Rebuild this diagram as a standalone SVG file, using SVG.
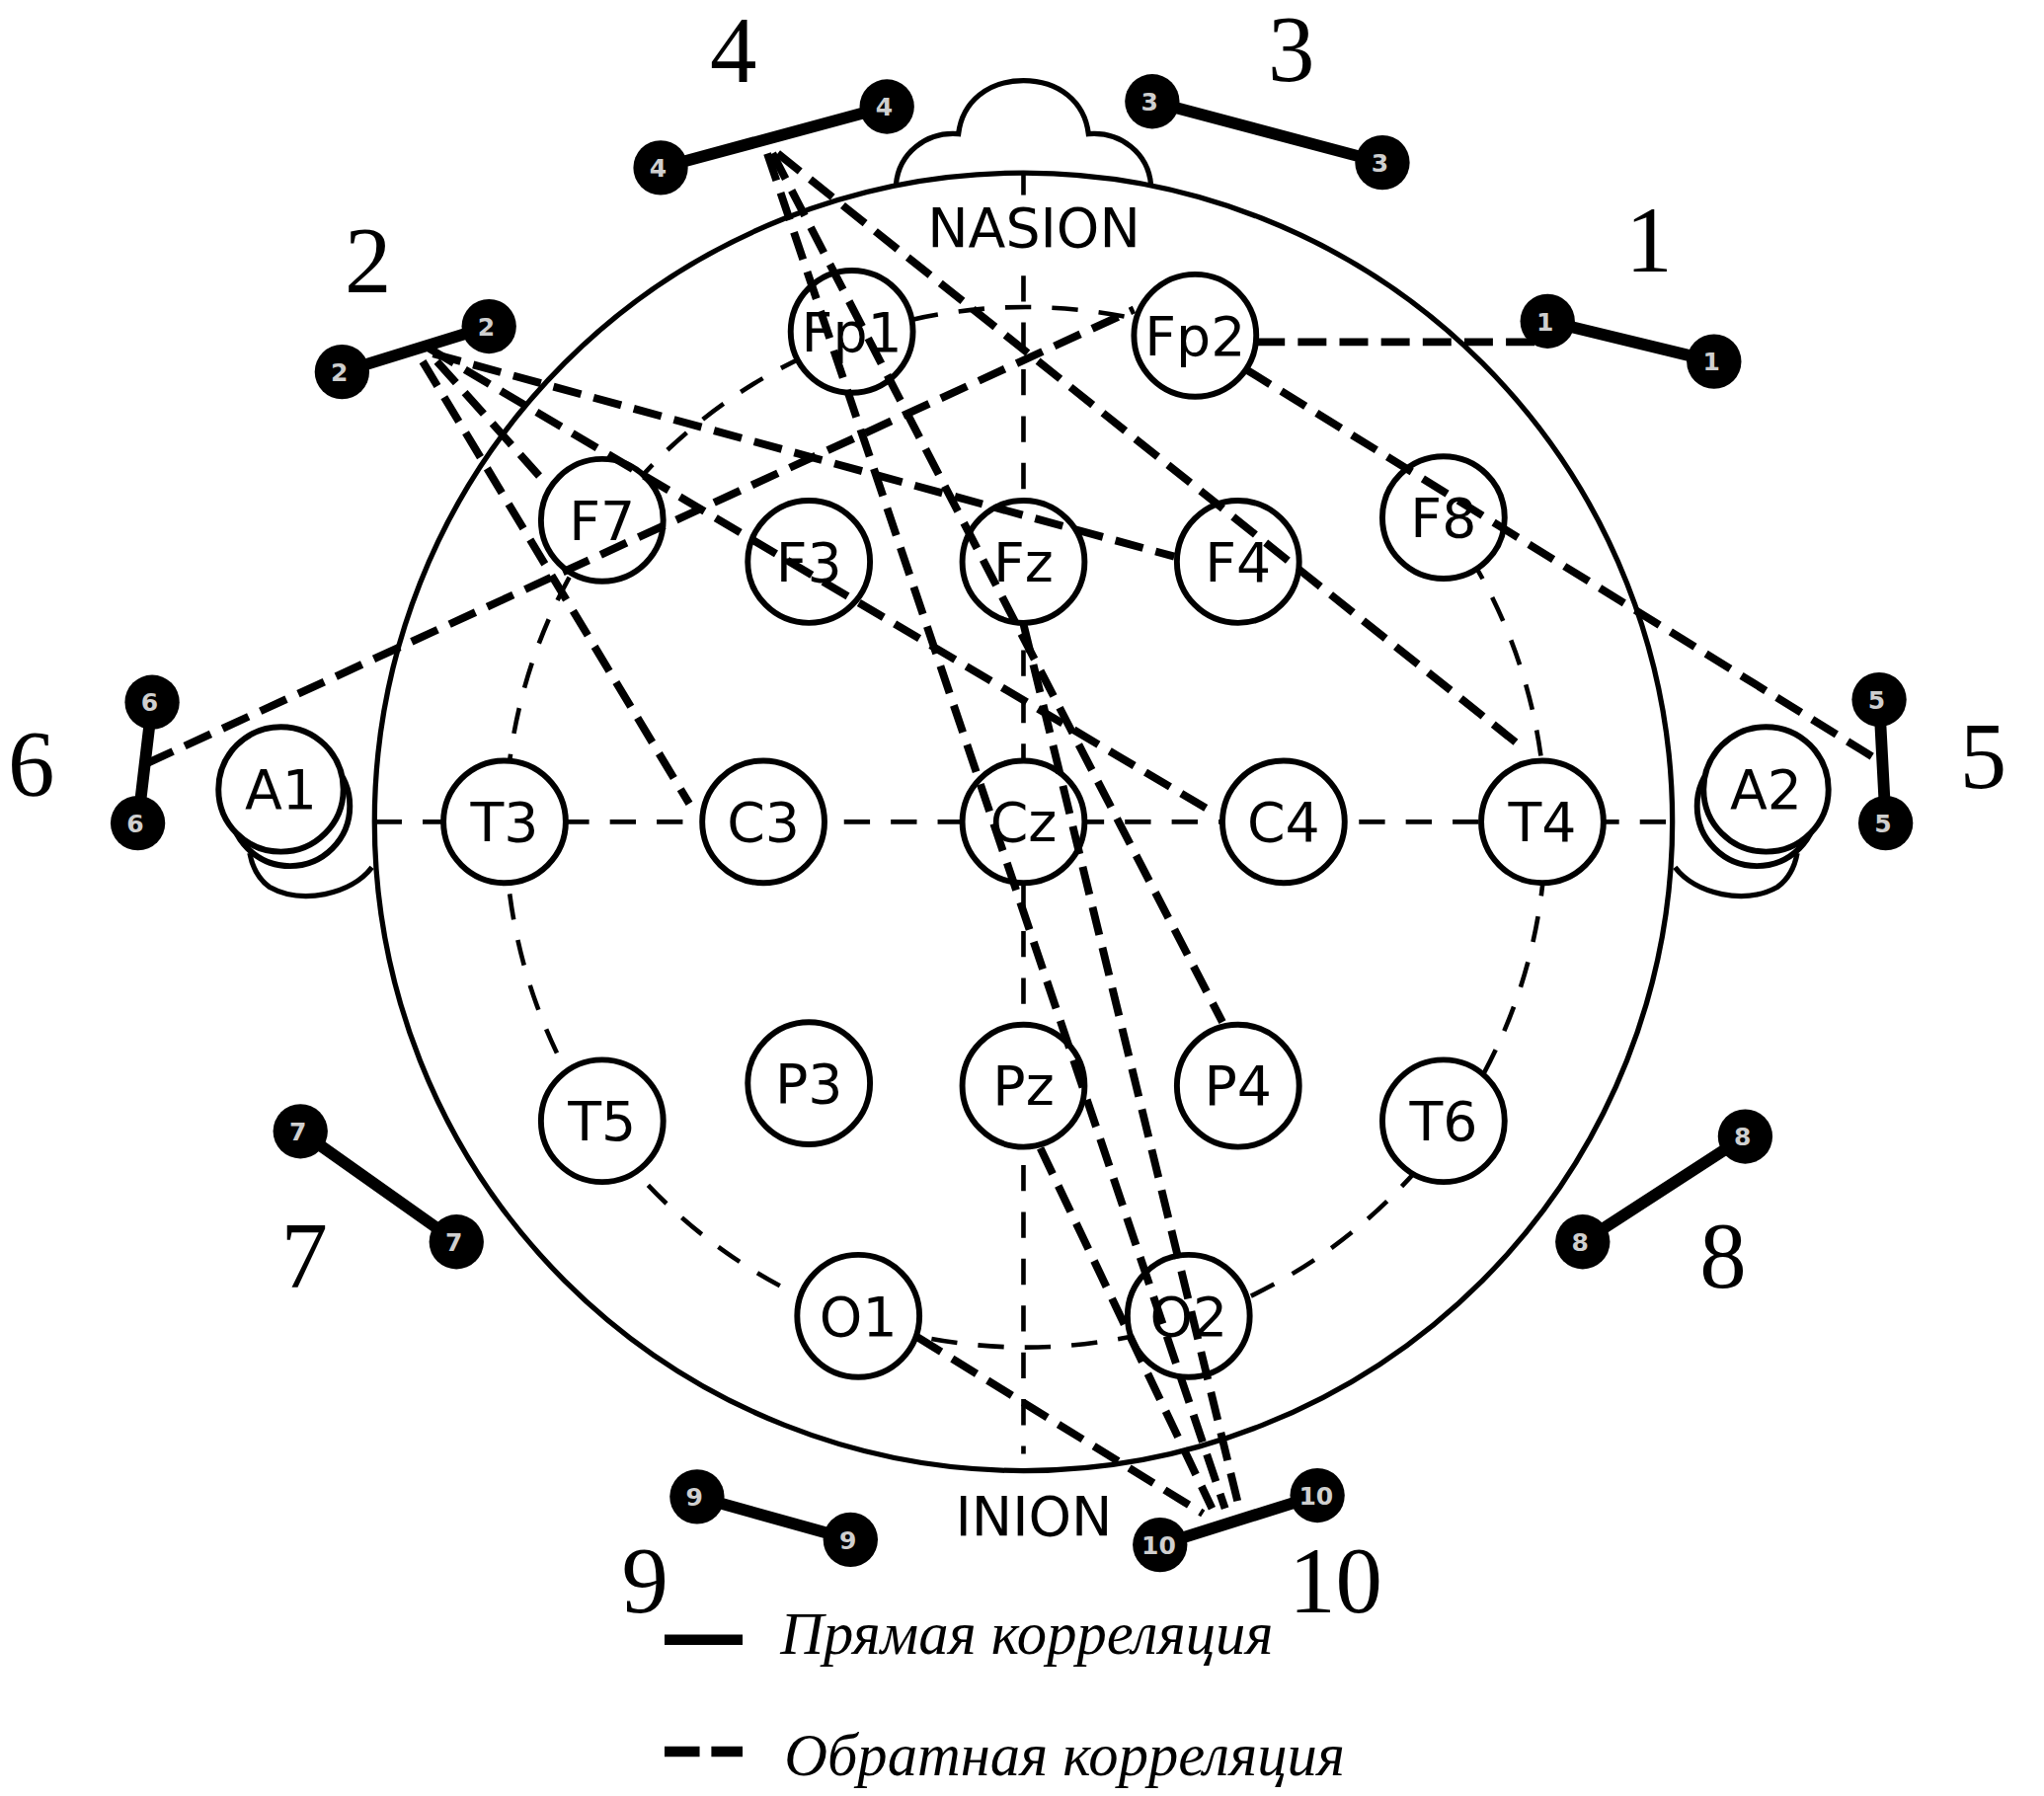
<svg xmlns="http://www.w3.org/2000/svg" width="2070" height="1819" viewBox="0 0 2070 1819">
<style>
.head{fill:none;stroke:#000;stroke-width:4}
.thin{fill:none;stroke:#000;stroke-width:3.5;stroke-dasharray:20 16}
.node circle{fill:#fff;stroke:#000;stroke-width:4.5}
.node text{font-family:"DejaVu Sans","Liberation Sans",sans-serif;font-size:42px;text-anchor:middle;fill:#000}
.conn line{stroke:#000;stroke-width:6;stroke-dasharray:22 10;fill:none}
.bar{stroke:#000;stroke-width:9;stroke-linecap:round}
.dot{fill:#000}
.dnum{font-family:"DejaVu Sans","Liberation Sans",sans-serif;font-size:19px;font-weight:bold;fill:#cfcfcf;text-anchor:middle}
.big{font-family:"Liberation Serif","Times New Roman",serif;font-size:72px;text-anchor:middle;fill:#000}
.lm{font-family:"DejaVu Sans","Liberation Sans",sans-serif;font-size:42px;text-anchor:middle;fill:#000}
.leg{font-family:"Liberation Serif","Times New Roman",serif;font-style:italic;font-size:46px;fill:#000}
</style>
<rect width="2070" height="1819" fill="#fff"/>
<g transform="scale(1.317)">
<g id="head">
<path class="head" d="M689,142 C691,118 712,101 737,103 C740,78 760,62 787,62 C814,62 834,78 837,103 C862,101 883,118 885,142"/>
<path class="head" d="M1288,667 C1304,688 1342,696 1367,682 C1375,676 1380,667 1382,656"/>
<path class="head" d="M286,667 C270,688 232,696 207,682 C199,676 194,667 192,656"/>
<circle class="head" cx="787" cy="632" r="499"/>
</g>
<g id="grid">
<path class="thin" d="M1110,398 A400,400 0 1 1 919,258"/>
<line x1="787" y1="133" x2="787" y2="150" stroke="#000" stroke-width="3.5"/>
<line class="thin" x1="787" y1="212" x2="787" y2="1118"/>
<line class="thin" x1="289" y1="632" x2="1285" y2="632"/>
</g>
<g id="labels-landmarks">
<text class="lm" x="795" y="190">NASION</text>
<text class="lm" x="795" y="1181">INION</text>
</g>
<g id="nodes">
<g class="node" id="node-Fp1"><circle cx="655" cy="255" r="47"/><text x="655" y="270">Fp1</text></g>
<g class="node" id="node-Fp2"><circle cx="919" cy="258" r="47"/><text x="919" y="273">Fp2</text></g>
<g class="node" id="node-F7"><circle cx="463" cy="400" r="47"/><text x="463" y="415">F7</text></g>
<g class="node" id="node-F3"><circle cx="622" cy="432" r="47"/><text x="622" y="447">F3</text></g>
<g class="node" id="node-Fz"><circle cx="787" cy="432" r="47"/><text x="787" y="447">Fz</text></g>
<g class="node" id="node-F4"><circle cx="952" cy="432" r="47"/><text x="952" y="447">F4</text></g>
<g class="node" id="node-F8"><circle cx="1110" cy="398" r="47"/><text x="1110" y="413">F8</text></g>
<g class="node" id="node-A1"><circle cx="223" cy="620" r="46"/><circle cx="216" cy="607" r="48"/><text x="216" y="622">A1</text></g>
<g class="node" id="node-T3"><circle cx="388" cy="632" r="47"/><text x="388" y="647">T3</text></g>
<g class="node" id="node-C3"><circle cx="587" cy="632" r="47"/><text x="587" y="647">C3</text></g>
<g class="node" id="node-Cz"><circle cx="787" cy="632" r="47"/><text x="787" y="647">Cz</text></g>
<g class="node" id="node-C4"><circle cx="987" cy="632" r="47"/><text x="987" y="647">C4</text></g>
<g class="node" id="node-T4"><circle cx="1186" cy="632" r="47"/><text x="1186" y="647">T4</text></g>
<g class="node" id="node-A2"><circle cx="1351" cy="620" r="46"/><circle cx="1358" cy="607" r="48"/><text x="1358" y="622">A2</text></g>
<g class="node" id="node-T5"><circle cx="463" cy="862" r="47"/><text x="463" y="877">T5</text></g>
<g class="node" id="node-P3"><circle cx="622" cy="833" r="47"/><text x="622" y="848">P3</text></g>
<g class="node" id="node-Pz"><circle cx="787" cy="835" r="47"/><text x="787" y="850">Pz</text></g>
<g class="node" id="node-P4"><circle cx="952" cy="835" r="47"/><text x="952" y="850">P4</text></g>
<g class="node" id="node-T6"><circle cx="1110" cy="862" r="47"/><text x="1110" y="877">T6</text></g>
<g class="node" id="node-O1"><circle cx="660" cy="1012" r="47"/><text x="660" y="1027">O1</text></g>
<g class="node" id="node-O2"><circle cx="914" cy="1012" r="47"/><text x="914" y="1027">O2</text></g>
</g>
<g id="connectors" class="conn">
<line x1="966" y1="263" x2="1182" y2="263"/>
<line x1="958" y1="284" x2="1440" y2="582"/>
<line x1="113" y1="587" x2="872" y2="238"/>
<line x1="325" y1="278" x2="530" y2="618"/>
<line x1="336" y1="278" x2="420" y2="372"/>
<line x1="330" y1="268" x2="935" y2="626"/>
<line x1="333" y1="272" x2="903" y2="428"/>
<line x1="598" y1="118" x2="1172" y2="576"/>
<line x1="594" y1="118" x2="940" y2="786"/>
<line x1="590" y1="118" x2="942" y2="1160"/>
<line x1="787" y1="480" x2="952" y2="1156"/>
<line x1="800" y1="883" x2="932" y2="1160"/>
<line x1="705" y1="1028" x2="925" y2="1164"/>
</g>
<g id="pairs">
<g id="pair-1"><line class="bar" x1="1190" y1="247" x2="1318" y2="278"/><circle class="dot" cx="1190" cy="247" r="21"/><circle class="dot" cx="1318" cy="278" r="21"/><text class="dnum" x="1188" y="254">1</text><text class="dnum" x="1316" y="285">1</text></g>
<g id="pair-2"><line class="bar" x1="263" y1="286" x2="376" y2="251"/><circle class="dot" cx="263" cy="286" r="21"/><circle class="dot" cx="376" cy="251" r="21"/><text class="dnum" x="261" y="293">2</text><text class="dnum" x="374" y="258">2</text></g>
<g id="pair-3"><line class="bar" x1="886" y1="78" x2="1063" y2="125"/><circle class="dot" cx="886" cy="78" r="21"/><circle class="dot" cx="1063" cy="125" r="21"/><text class="dnum" x="884" y="85">3</text><text class="dnum" x="1061" y="132">3</text></g>
<g id="pair-4"><line class="bar" x1="508" y1="129" x2="682" y2="82"/><circle class="dot" cx="508" cy="129" r="21"/><circle class="dot" cx="682" cy="82" r="21"/><text class="dnum" x="506" y="136">4</text><text class="dnum" x="680" y="89">4</text></g>
<g id="pair-5"><line class="bar" x1="1445" y1="538" x2="1450" y2="633"/><circle class="dot" cx="1445" cy="538" r="21"/><circle class="dot" cx="1450" cy="633" r="21"/><text class="dnum" x="1443" y="545">5</text><text class="dnum" x="1448" y="640">5</text></g>
<g id="pair-6"><line class="bar" x1="117" y1="540" x2="106" y2="633"/><circle class="dot" cx="117" cy="540" r="21"/><circle class="dot" cx="106" cy="633" r="21"/><text class="dnum" x="115" y="547">6</text><text class="dnum" x="104" y="640">6</text></g>
<g id="pair-7"><line class="bar" x1="231" y1="870" x2="351" y2="955"/><circle class="dot" cx="231" cy="870" r="21"/><circle class="dot" cx="351" cy="955" r="21"/><text class="dnum" x="229" y="877">7</text><text class="dnum" x="349" y="962">7</text></g>
<g id="pair-8"><line class="bar" x1="1342" y1="874" x2="1217" y2="955"/><circle class="dot" cx="1342" cy="874" r="21"/><circle class="dot" cx="1217" cy="955" r="21"/><text class="dnum" x="1340" y="881">8</text><text class="dnum" x="1215" y="962">8</text></g>
<g id="pair-9"><line class="bar" x1="536" y1="1151" x2="654" y2="1184"/><circle class="dot" cx="536" cy="1151" r="21"/><circle class="dot" cx="654" cy="1184" r="21"/><text class="dnum" x="534" y="1158">9</text><text class="dnum" x="652" y="1191">9</text></g>
<g id="pair-10"><line class="bar" x1="892" y1="1188" x2="1013" y2="1150"/><circle class="dot" cx="892" cy="1188" r="21"/><circle class="dot" cx="1013" cy="1150" r="21"/><text class="dnum" x="891" y="1195">10</text><text class="dnum" x="1012" y="1157">10</text></g>
</g>
<g id="pair-labels">
<text class="big" x="1268" y="209">1</text>
<text class="big" x="283" y="225">2</text>
<text class="big" x="993" y="62">3</text>
<text class="big" x="564" y="63">4</text>
<text class="big" x="1525" y="606">5</text>
<text class="big" x="24" y="612">6</text>
<text class="big" x="234" y="990">7</text>
<text class="big" x="1325" y="990">8</text>
<text class="big" x="496" y="1240">9</text>
<text class="big" x="1027" y="1240">10</text>
</g>
<g id="legend">
<line x1="511" y1="1261" x2="571" y2="1261" stroke="#000" stroke-width="8"/>
<line x1="511" y1="1347" x2="571" y2="1347" stroke="#000" stroke-width="8" stroke-dasharray="27 9"/>
<text class="leg" x="600" y="1272">Прямая корреляция</text>
<text class="leg" x="603" y="1365">Обратная корреляция</text>
</g>
</g>
</svg>
